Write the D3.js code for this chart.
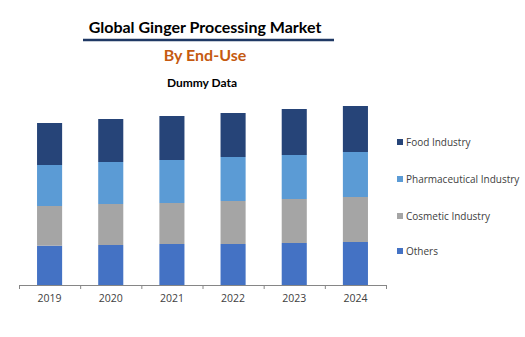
<!DOCTYPE html>
<html><head><meta charset="utf-8">
<script src="https://cdn.jsdelivr.net/npm/d3@7"></script>
<style>body{margin:0;background:#fff}svg{display:block}</style>
</head><body>
<svg id="c" width="525" height="337"></svg>
<script>
const years = ["2019","2020","2021","2022","2023","2024"];
const others = [39.3, 40, 41, 41, 42, 43];
const cosmetic = [39.7, 41, 41, 43, 44, 45];
const pharmaceutical = [41, 42, 43, 44, 44, 45];
const food = [42, 43, 44, 44, 46, 46];
const seriesNames = ["Others","Cosmetic Industry","Pharmaceutical Industry","Food Industry"];
const seriesColors = ["#4472C4","#A5A5A5","#5B9BD5","#264478"];

const rows = years.map((y,i)=>({year:y, "Others":others[i], "Cosmetic Industry":cosmetic[i], "Pharmaceutical Industry":pharmaceutical[i], "Food Industry":food[i]}));
const stack = d3.stack().keys(seriesNames)(rows);

const svg = d3.select("#c");
const x = d3.scaleBand().domain(years).range([19,386]).paddingInner(0.59).paddingOuter(0.295);
const y = d3.scaleLinear().domain([0,180]).range([285,105]);
const color = d3.scaleOrdinal().domain(seriesNames).range(seriesColors);

svg.append("g").selectAll("g").data(stack).join("g").attr("fill",d=>color(d.key))
  .selectAll("rect").data(d=>d).join("rect")
  .attr("x",d=>x(d.data.year)).attr("width",x.bandwidth())
  .attr("y",d=>y(d[1])).attr("height",d=>y(d[0])-y(d[1]));

const xb = d3.scaleBand().domain(years).range([19,386]);
const ax = svg.append("g").attr("transform","translate(0,285)").call(d3.axisBottom(xb).tickSize(0).tickPadding(10));
ax.select(".domain").attr("stroke","#868686");
ax.selectAll("text").attr("font-family","'Open Sans', sans-serif").attr("font-size","10.5px").attr("fill","#404040");
// tick marks at band boundaries
const bounds = years.map(d=>xb(d)).concat([xb.range()[1]]);
ax.selectAll("line.tb").data(bounds).join("line").attr("class","tb")
  .attr("x1",d=>d+0.5).attr("x2",d=>d+0.5).attr("y1",0).attr("y2",4).attr("stroke","#868686");

// Titles
svg.append("text").attr("x",205).attr("y",33).attr("text-anchor","middle")
  .attr("font-family","Lato, sans-serif").attr("font-weight","bold").attr("font-size","16px").attr("fill","#000")
  .text("Global Ginger Processing Market");
svg.append("line").attr("x1",83).attr("x2",334).attr("y1",40).attr("y2",40).attr("stroke","#1F3864").attr("stroke-width",2.5);
svg.append("text").attr("x",205).attr("y",61).attr("text-anchor","middle")
  .attr("font-family","Lato, sans-serif").attr("font-weight","bold").attr("font-size","16px").attr("fill","#C55A11")
  .text("By End-Use");
svg.append("text").attr("x",202).attr("y",87).attr("text-anchor","middle")
  .attr("font-family","Lato, sans-serif").attr("font-weight","bold").attr("font-size","12px").attr("fill","#000")
  .text("Dummy Data");

// Legend
const legendOrder = ["Food Industry","Pharmaceutical Industry","Cosmetic Industry","Others"];
const legendY = [142,179,216,251];
const lg = svg.append("g").selectAll("g").data(legendOrder).join("g")
  .attr("transform",(d,i)=>`translate(397,${legendY[i]})`);
lg.append("rect").attr("x",0).attr("y",-3).attr("width",6).attr("height",6).attr("fill",d=>color(d));
lg.append("text").attr("x",9).attr("y",0).attr("dy","0.35em")
  .attr("font-family","'Open Sans', sans-serif").attr("font-size","10px").attr("fill","#404040").text(d=>d);
</script>
</body></html>
